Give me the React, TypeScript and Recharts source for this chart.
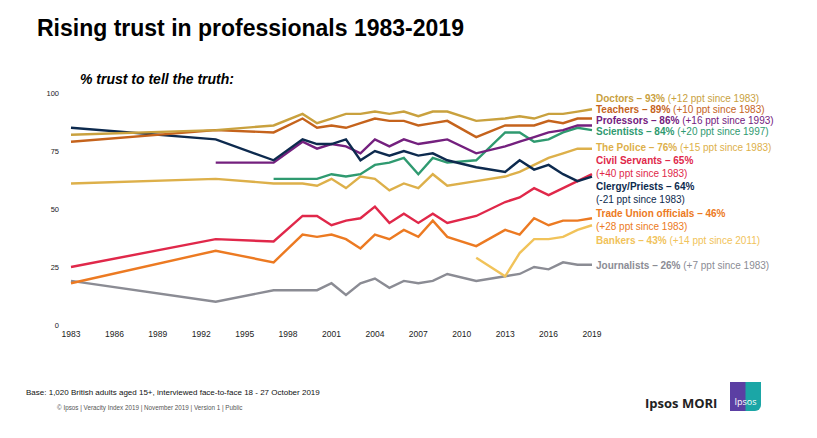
import React from 'react';
import { LineChart, Line, XAxis, YAxis } from 'recharts';

// survey waves
const years = [1983, 1993, 1997, 1999, 2000, 2001, 2002, 2003, 2004, 2005, 2006, 2007, 2008, 2009, 2011, 2013, 2014, 2015, 2016, 2017, 2018, 2019];

const doctors = [82, 84, 86, 91, 87, 89, 91, 91, 92, 91, 92, 90, 92, 92, 88, 89, 90, 89, 91, 91, 92, 93];
const teachers = [79, 84, 83, 89, 85, 86, 85, 87, 89, 88, 88, 86, 87, 88, 81, 86, 86, 86, 88, 87, 89, 89];
const professors = [null, 70, 70, 79, 76, 78, 77, 74, 80, 77, 80, 78, 79, 80, 74, 77, 79, 81, 83, 84, 86, 86];
const scientists = [null, null, 63, 63, 63, 65, 64, 65, 69, 70, 72, 65, 72, 70, 71, 83, 83, 79, 80, 83, 85, 84];
const police = [61, 63, 61, 61, 60, 63, 59, 64, 63, 58, 61, 59, 65, 60, 62, 64, 66, 69, 72, 74, 76, 76];
const civilServants = [25, 37, 36, 47, 47, 43, 45, 46, 51, 44, 48, 44, 48, 44, 47, 53, 55, 59, 56, 59, 62, 65];
const clergy = [85, 80, 71, 80, 78, 78, 80, 71, 75, 73, 75, 73, 74, 71, 68, 66, 71, 67, 69, 65, 62, 64];
const tradeUnion = [18, 32, 27, 39, 38, 39, 37, 33, 39, 37, 41, 38, 45, 38, 34, 41, 39, 46, 43, 45, 45, 46];
const bankers = [null, null, null, null, null, null, null, null, null, null, null, null, null, null, 29, 21, 31, 37, 37, 38, 41, 43];
const journalists = [19, 10, 15, 15, 15, 18, 13, 18, 20, 16, 19, 18, 19, 22, 19, 21, 22, 25, 24, 27, 26, 26];

const xTicks = [1983, 1986, 1989, 1992, 1995, 1998, 2001, 2004, 2007, 2010, 2013, 2016, 2019];
const yTicks = [0, 25, 50, 75, 100];

const series = [
  { key: 'journalists', values: journalists, color: '#8B8C94' },
  { key: 'bankers', values: bankers, color: '#F1C35A' },
  { key: 'tradeUnion', values: tradeUnion, color: '#EC7A22' },
  { key: 'civilServants', values: civilServants, color: '#E0284A' },
  { key: 'police', values: police, color: '#DDB04A' },
  { key: 'scientists', values: scientists, color: '#2F9A70' },
  { key: 'professors', values: professors, color: '#74207E' },
  { key: 'clergy', values: clergy, color: '#0D2A4E' },
  { key: 'teachers', values: teachers, color: '#C5631C' },
  { key: 'doctors', values: doctors, color: '#C9A13E' },
];

const labels = [
  { top: 93, color: '#C9A13E', bold: 'Doctors – 93%', rest: ' (+12 ppt since 1983)' },
  { top: 104, color: '#C5631C', bold: 'Teachers – 89%', rest: ' (+10 ppt since 1983)' },
  { top: 115, color: '#74207E', bold: 'Professors – 86%', rest: ' (+16 ppt since 1993)' },
  { top: 126, color: '#2F9A70', bold: 'Scientists – 84%', rest: ' (+20 ppt since 1997)' },
  { top: 142, color: '#DDB04A', bold: 'The Police – 76%', rest: ' (+15 ppt since 1983)' },
  { top: 155, color: '#E0284A', bold: 'Civil Servants – 65%', rest: '' },
  { top: 168, color: '#E0284A', bold: '', rest: '(+40 ppt since 1983)' },
  { top: 181, color: '#0D2A4E', bold: 'Clergy/Priests – 64%', rest: '' },
  { top: 194, color: '#0D2A4E', bold: '', rest: '(-21 ppt since 1983)' },
  { top: 208, color: '#EC7A22', bold: 'Trade Union officials – 46%', rest: '' },
  { top: 221, color: '#EC7A22', bold: '', rest: '(+28 ppt since 1983)' },
  { top: 235, color: '#F1C35A', bold: 'Bankers – 43%', rest: ' (+14 ppt since 2011)' },
  { top: 260, color: '#8B8C94', bold: 'Journalists – 26%', rest: ' (+7 ppt since 1983)' },
];

const data = years.map((year, i) => {
  const row: Record<string, number | null> = { year };
  series.forEach((s) => {
    row[s.key] = s.values[i];
  });
  return row;
});

const font = '"Liberation Sans", Arial, sans-serif';

export default function App() {
  return (
    <div style={{ position: 'absolute', left: 0, top: 0, width: 817, height: 438, background: '#fff', fontFamily: font, overflow: 'hidden' }}>
      <div style={{ position: 'absolute', left: 37, top: 15, fontSize: 23, fontWeight: 'bold', color: '#000' }}>
        Rising trust in professionals 1983-2019
      </div>
      <div style={{ position: 'absolute', left: 80, top: 71, fontSize: 14, fontWeight: 'bold', fontStyle: 'italic', color: '#000' }}>
        % trust to tell the truth:
      </div>

      <div style={{ position: 'absolute', left: 0, top: 0 }}>
        <LineChart width={817} height={438} data={data} margin={{ top: 93, right: 225, bottom: 93, left: 41 }}>
          <XAxis
            type="number"
            dataKey="year"
            domain={[1983, 2019]}
            ticks={xTicks}
            interval={0}
            axisLine={false}
            tickLine={false}
            tickSize={0}
            tickMargin={6}
            height={20}
            tick={{ fontSize: 8.5, fill: '#222', fontFamily: font }}
          />
          <YAxis
            domain={[0, 100]}
            ticks={yTicks}
            axisLine={false}
            tickLine={false}
            tickSize={0}
            tickMargin={12}
            width={30}
            tick={{ fontSize: 7.5, fill: '#222', fontFamily: font }}
          />
          {series.map((s) => (
            <Line
              key={s.key}
              dataKey={s.key}
              type="linear"
              stroke={s.color}
              strokeWidth={2.4}
              dot={false}
              isAnimationActive={false}
            />
          ))}
        </LineChart>
      </div>

      {labels.map((l, i) => (
        <div key={i} style={{ position: 'absolute', left: 596, top: l.top, fontSize: 10, color: l.color, whiteSpace: 'nowrap', lineHeight: '12px' }}>
          <span style={{ fontWeight: 'bold' }}>{l.bold}</span>
          <span>{l.rest}</span>
        </div>
      ))}

      <div style={{ position: 'absolute', left: 26, top: 388, fontSize: 8, color: '#111' }}>
        Base: 1,020 British adults aged 15+, interviewed face-to-face 18 - 27 October 2019
      </div>
      <div style={{ position: 'absolute', left: 57, top: 404, fontSize: 6.3, color: '#555' }}>
        © Ipsos | Veracity Index 2019 | November 2019 | Version 1 | Public
      </div>

      <div style={{ position: 'absolute', left: 645, top: 394, fontSize: 13, fontWeight: 'bold', color: '#222', fontFamily: '"Open Sans", Arial, sans-serif' }}>
        Ipsos MORI
      </div>
      <div
        style={{
          position: 'absolute',
          left: 730,
          top: 382,
          width: 31,
          height: 29,
          background: 'linear-gradient(90deg, #5B3FA3 0%, #5B3FA3 48%, #1BA6A6 52%, #1BA6A6 100%)',
          borderBottomRightRadius: 6,
          color: '#fff',
          fontSize: 9,
          fontFamily: '"Open Sans", Arial, sans-serif',
          display: 'flex',
          alignItems: 'flex-end',
          justifyContent: 'center',
          paddingBottom: 3,
          boxSizing: 'border-box',
        }}
      >
        Ipsos
      </div>
    </div>
  );
}
